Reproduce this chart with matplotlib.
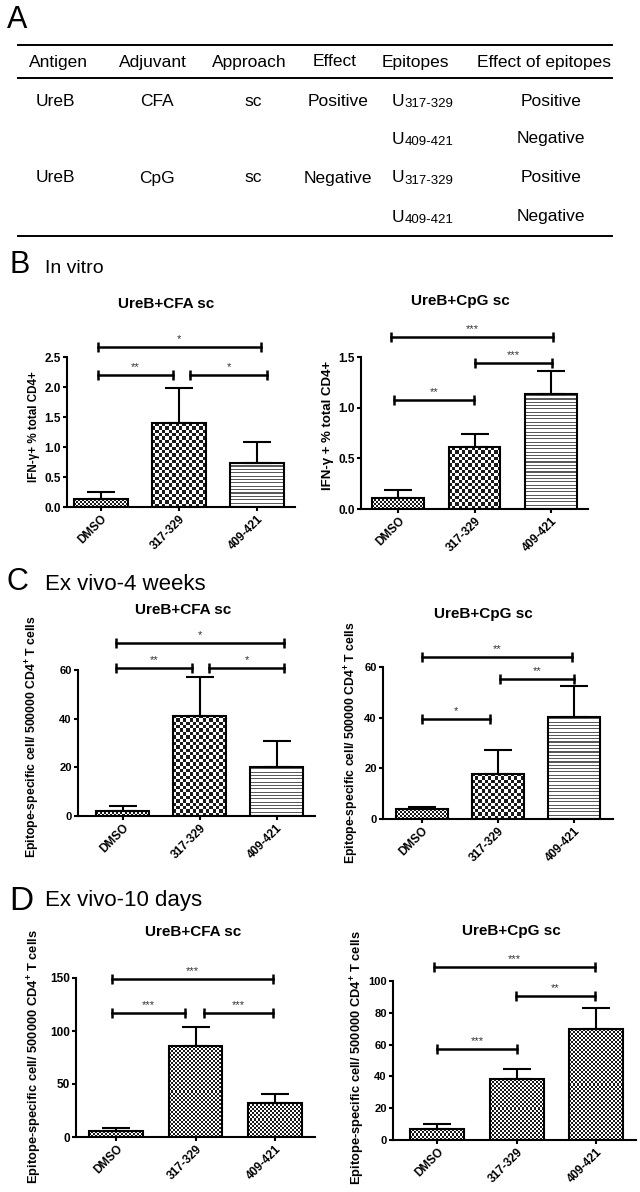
import numpy as np
import matplotlib
matplotlib.use('Agg')
import matplotlib.pyplot as plt
from matplotlib.colors import ListedColormap
from matplotlib.transforms import ScaledTranslation

plt.rcParams['font.family'] = ['Liberation Sans', 'DejaVu Sans']
plt.rcParams['mathtext.fontset'] = 'custom'
plt.rcParams['mathtext.rm'] = 'Liberation Sans'
plt.rcParams['mathtext.bf'] = 'Liberation Sans:bold'

# --- Data ---
groups = ['DMSO', '317-329', '409-421']

# B: in vitro, IFN-g+ % of CD4+
b_cfa_mean = [0.13, 1.40, 0.74]
b_cfa_sem = [0.12, 0.59, 0.35]
b_cpg_mean = [0.11, 0.61, 1.13]
b_cpg_sem = [0.08, 0.13, 0.23]
# C: ex vivo 4 weeks
c_cfa_mean = [2.0, 41.2, 20.3]
c_cfa_sem = [2.2, 15.8, 10.7]
c_cpg_mean = [3.9, 17.9, 40.3]
c_cpg_sem = [0.7, 9.2, 12.1]
# D: ex vivo 10 days
d_cfa_mean = [5.3, 85.5, 32.4]
d_cfa_sem = [3.2, 18.3, 8.5]
d_cpg_mean = [6.9, 38.2, 69.8]
d_cpg_sem = [3.0, 6.7, 13.0]

# significance brackets: (x from, x to, height, label)
b_cfa_sig = [(-0.04, 0.92, 2.2, '**'), (1.14, 2.13, 2.2, '*'), (-0.04, 2.05, 2.67, '*')]
b_cpg_sig = [(-0.06, 0.99, 1.08, '**'), (1.01, 2.02, 1.44, '***'), (-0.09, 2.03, 1.70, '***')]
c_cfa_sig = [(-0.08, 0.90, 61, '**'), (1.12, 2.10, 61, '*'), (-0.08, 2.10, 71, '*')]
c_cpg_sig = [(0.0, 0.89, 39.5, '*'), (1.03, 2.0, 55.3, '**'), (0.0, 1.97, 64, '**')]
d_cfa_sig = [(-0.06, 0.87, 117, '***'), (1.11, 1.98, 117, '***'), (-0.06, 1.98, 149, '***')]
d_cpg_sig = [(0.0, 1.0, 57, '***'), (0.99, 1.98, 90.5, '**'), (-0.04, 1.98, 109, '***')]

# table A
table_header = ['Antigen', 'Adjuvant', 'Approach', 'Effect', 'Epitopes', 'Effect of epitopes']
table_antigen = ['UreB', '', 'UreB', '']
table_adjuvant = ['CFA', '', 'CpG', '']
table_approach = ['sc', '', 'sc', '']
table_effect = ['Positive', '', 'Negative', '']
table_epitopes = ['317-329', '409-421', '317-329', '409-421']
table_epi_effect = ['Positive', 'Negative', 'Positive', 'Negative']

W, H = 640, 1192
fig = plt.figure(figsize=(W / 100, H / 100), dpi=100)

# overlay in pixel coords for free text
ov = fig.add_axes([0, 0, 1, 1])
ov.set_xlim(0, W)
ov.set_ylim(H, 0)
ov.axis('off')

# --- Table A ---
ov.text(7, 28, 'A', fontsize=22, va='baseline')
for y in [45, 78, 236]:
    ov.plot([18, 612], [y, y], color='black', lw=1.4)
header_x = [58, 153, 249, 335, 415, 544]
for hx, lab in zip(header_x, table_header):
    ov.text(hx, 62, lab, fontsize=12.5, ha='center', va='center')
row_y = [101, 139, 178, 217]
for i, ry in enumerate(row_y):
    for cx, col in zip([55, 157, 253, 338, 551],
                       [table_antigen, table_adjuvant, table_approach, table_effect, table_epi_effect]):
        if col[i]:
            ov.text(cx, ry, col[i], fontsize=12.5, ha='center', va='center')
    u = ov.text(392, ry, 'U', fontsize=12.5, ha='left', va='center')
    ov.annotate(table_epitopes[i], xy=(1, 0), xycoords=u, xytext=(0.2, -1.2),
                textcoords='offset points', fontsize=9.5, ha='left', va='bottom')

# section headings
ov.text(10, 273, 'B', fontsize=22, va='baseline')
ov.text(45, 273, 'In vitro', fontsize=14, va='baseline')
ov.text(7, 590, 'C', fontsize=22, va='baseline')
ov.text(45, 590, 'Ex vivo-4 weeks', fontsize=16, va='baseline')
ov.text(9, 910, 'D', fontsize=24, va='baseline')
ov.text(45, 906, 'Ex vivo-10 days', fontsize=16, va='baseline')

cmaps = {'checker': ListedColormap(['white', '#1a1a1a']),
         'stripes': ListedColormap(['white', '#5a5a5a'])}


def fill_pattern(ax, bar, kind, cell):
    bx, by, bw, bh = bar.get_x(), bar.get_y(), bar.get_width(), bar.get_height()
    p0 = ax.transData.transform((bx, by))
    p1 = ax.transData.transform((bx + bw, by + bh))
    nx = max(1, int(round((p1[0] - p0[0]) / cell)))
    ny = max(1, int(round((p1[1] - p0[1]) / cell)))
    if kind == 'checker':
        img = np.indices((ny, nx)).sum(axis=0) % 2
    else:
        img = (np.arange(ny) % 3 == 0)[:, None] * np.ones((1, nx))
    ax.imshow(img, cmap=cmaps[kind], vmin=0, vmax=1, origin='lower',
              extent=(bx, bx + bw, by, by + bh), aspect='auto',
              interpolation='nearest', zorder=2)


def draw_panel(box, xlim, yticks, fmt, means, sems, sig, patterns,
               ylabel, ylab_xy, title, title_xy, ylab_size=8, tick_size=8):
    x0, x1, ytop, ybot = box
    ax = fig.add_axes([x0 / W, 1 - ybot / H, (x1 - x0) / W, (ybot - ytop) / H])
    xs = np.arange(len(groups))
    ax.set_xlim(*xlim)
    ax.set_ylim(yticks[0], yticks[-1])
    bars = ax.bar(xs, means, width=0.68, facecolor='none', edgecolor='black',
                  linewidth=1.5, zorder=3)
    for bar, (kind, cell) in zip(bars, patterns):
        fill_pattern(ax, bar, kind, cell)
    ax.errorbar(xs, means, yerr=[np.zeros(len(xs)), sems], fmt='none', ecolor='black',
                elinewidth=1.5, capsize=10, capthick=1.5, zorder=2.5)
    for xa, xb, yy, lab in sig:
        ax.plot([xa, xb], [yy, yy], color='black', lw=1.8, marker='|', ms=7, mew=1.8,
                clip_on=False, zorder=4)
        ax.annotate(lab, xy=((xa + xb) / 2, yy), xytext=(0, 3.5), textcoords='offset points',
                    ha='center', va='baseline', fontsize=8, color='#333333',
                    annotation_clip=False)
    ax.set_yticks(yticks)
    ax.set_yticklabels([fmt.format(v) for v in yticks], fontweight='bold', fontsize=tick_size)
    ax.set_xticks(xs)
    ax.set_xticklabels(groups, rotation=45, ha='right', rotation_mode='anchor',
                       fontweight='bold', fontsize=8.5)
    for t in ax.get_xticklabels():
        t.set_transform(t.get_transform() + ScaledTranslation(5 / 72, 0, fig.dpi_scale_trans))
    ax.tick_params(width=1.5, length=3, direction='out', pad=1.5)
    for s in ['top', 'right']:
        ax.spines[s].set_visible(False)
    for s in ['left', 'bottom']:
        ax.spines[s].set_linewidth(1.5)
    ax.patch.set_alpha(0)
    ov.text(ylab_xy[0], ylab_xy[1], ylabel, rotation=90, ha='center', va='center',
            fontsize=ylab_size, fontweight='bold')
    ov.text(title_xy[0], title_xy[1], title, ha='center', va='baseline',
            fontsize=11, fontweight='bold')
    return ax


pat_bc = [('checker', 2.0), ('checker', 3.3), ('stripes', 1.1)]
pat_d = [('checker', 2.0)] * 3
epi_label = r'Epitope-specific cell/ 500000 CD4$^{\mathbf{+}}$ T cells'

draw_panel((67, 295, 357, 507), (-0.436, 2.487), [0, 0.5, 1.0, 1.5, 2.0, 2.5], '{:.1f}',
           b_cfa_mean, b_cfa_sem, b_cfa_sig, pat_bc,
           'IFN-γ+ % total CD4+', (34, 427), 'UreB+CFA sc', (166, 308),
           ylab_size=8.4, tick_size=8.5)
draw_panel((361, 588, 357, 509), (-0.49, 2.49), [0, 0.5, 1.0, 1.5], '{:.1f}',
           b_cpg_mean, b_cpg_sem, b_cpg_sig, pat_bc,
           'IFN-γ + % total CD4+', (328, 425), 'UreB+CpG sc', (460, 305),
           ylab_size=9.5, tick_size=8.5)
draw_panel((78, 315, 670, 816), (-0.58, 2.5), [0, 20, 40, 60], '{:d}',
           c_cfa_mean, c_cfa_sem, c_cfa_sig, pat_bc,
           epi_label, (33, 737), 'UreB+CFA sc', (183, 614), ylab_size=8.8)
draw_panel((383, 613, 667, 819), (-0.51, 2.51), [0, 20, 40, 60], '{:d}',
           c_cpg_mean, c_cpg_sem, c_cpg_sig, pat_bc,
           epi_label, (352, 743), 'UreB+CpG sc', (483, 618), ylab_size=8.8)
draw_panel((76, 315, 978, 1137), (-0.51, 2.51), [0, 50, 100, 150], '{:d}',
           d_cfa_mean, d_cfa_sem, d_cfa_sig, pat_d,
           epi_label, (35, 1057), 'UreB+CFA sc', (193, 936),
           ylab_size=9.3, tick_size=8.5)
draw_panel((393, 636, 981, 1140), (-0.56, 2.5), [0, 20, 40, 60, 80, 100], '{:d}',
           d_cpg_mean, d_cpg_sem, d_cpg_sig, pat_d,
           epi_label, (358, 1058), 'UreB+CpG sc', (511, 935), ylab_size=9.3)

fig.savefig('out.png', dpi=100)
